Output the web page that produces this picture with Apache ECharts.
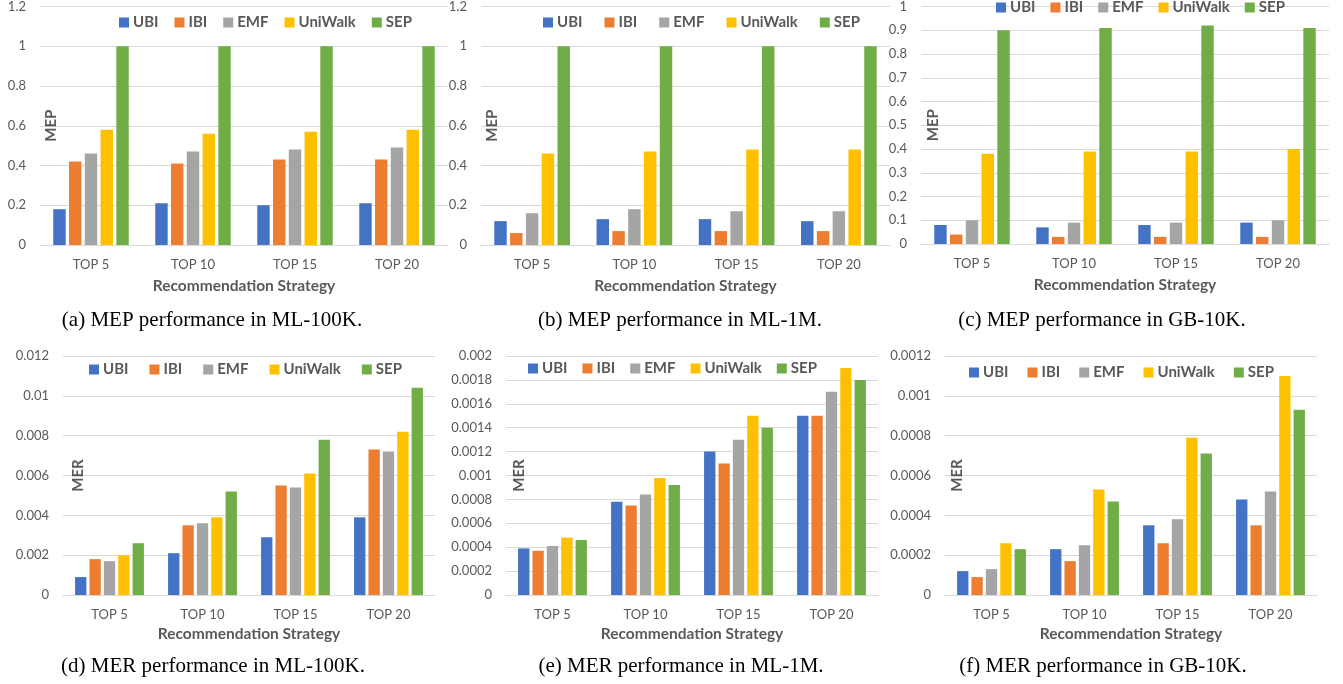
<!DOCTYPE html>
<html>
<head>
<meta charset="utf-8">
<script src="https://cdn.jsdelivr.net/npm/echarts@6/dist/echarts.min.js"></script>
<style>
html,body{margin:0;padding:0;background:#fff;}
#c{width:1343px;height:684px;}
</style>
</head>
<body>
<div id="c"></div>
<script>
// ---- data ----
const categories = ['TOP 5', 'TOP 10', 'TOP 15', 'TOP 20'];
const methods = ['UBI', 'IBI', 'EMF', 'UniWalk', 'SEP'];
const colors = ['#4472C4', '#ED7D31', '#A5A5A5', '#FFC000', '#70AD47'];

// (a) MEP ML-100K
const mepML100K_UBI = [0.18, 0.21, 0.20, 0.21];
const mepML100K_IBI = [0.42, 0.41, 0.43, 0.43];
const mepML100K_EMF = [0.46, 0.47, 0.48, 0.49];
const mepML100K_UniWalk = [0.58, 0.56, 0.57, 0.58];
const mepML100K_SEP = [1.0, 1.0, 1.0, 1.0];
// (b) MEP ML-1M
const mepML1M_UBI = [0.12, 0.13, 0.13, 0.12];
const mepML1M_IBI = [0.06, 0.07, 0.07, 0.07];
const mepML1M_EMF = [0.16, 0.18, 0.17, 0.17];
const mepML1M_UniWalk = [0.46, 0.47, 0.48, 0.48];
const mepML1M_SEP = [1.0, 1.0, 1.0, 1.0];
// (c) MEP GB-10K
const mepGB10K_UBI = [0.08, 0.07, 0.08, 0.09];
const mepGB10K_IBI = [0.04, 0.03, 0.03, 0.03];
const mepGB10K_EMF = [0.10, 0.09, 0.09, 0.10];
const mepGB10K_UniWalk = [0.38, 0.39, 0.39, 0.40];
const mepGB10K_SEP = [0.90, 0.91, 0.92, 0.91];
// (d) MER ML-100K
const merML100K_UBI = [0.0009, 0.0021, 0.0029, 0.0039];
const merML100K_IBI = [0.0018, 0.0035, 0.0055, 0.0073];
const merML100K_EMF = [0.0017, 0.0036, 0.0054, 0.0072];
const merML100K_UniWalk = [0.0020, 0.0039, 0.0061, 0.0082];
const merML100K_SEP = [0.0026, 0.0052, 0.0078, 0.0104];
// (e) MER ML-1M
const merML1M_UBI = [0.00039, 0.00078, 0.0012, 0.0015];
const merML1M_IBI = [0.00037, 0.00075, 0.0011, 0.0015];
const merML1M_EMF = [0.00041, 0.00084, 0.0013, 0.0017];
const merML1M_UniWalk = [0.00048, 0.00098, 0.0015, 0.0019];
const merML1M_SEP = [0.00046, 0.00092, 0.0014, 0.0018];
// (f) MER GB-10K
const merGB10K_UBI = [0.00012, 0.00023, 0.00035, 0.00048];
const merGB10K_IBI = [0.00009, 0.00017, 0.00026, 0.00035];
const merGB10K_EMF = [0.00013, 0.00025, 0.00038, 0.00052];
const merGB10K_UniWalk = [0.00026, 0.00053, 0.00079, 0.0011];
const merGB10K_SEP = [0.00023, 0.00047, 0.00071, 0.00093];

// y-axis scales
const yMax = [1.2, 1.2, 1.0, 0.012, 0.002, 0.0012];
const yStep = [0.2, 0.2, 0.1, 0.002, 0.0002, 0.0002];
const yNames = ['MEP', 'MEP', 'MEP', 'MER', 'MER', 'MER'];
const xName = 'Recommendation Strategy';
const captions = [
  '(a) MEP performance in ML-100K.',
  '(b) MEP performance in ML-1M.',
  '(c) MEP performance in GB-10K.',
  '(d) MER performance in ML-100K.',
  '(e) MER performance in ML-1M.',
  '(f) MER performance in GB-10K.'
];

const panels = [
  [mepML100K_UBI, mepML100K_IBI, mepML100K_EMF, mepML100K_UniWalk, mepML100K_SEP],
  [mepML1M_UBI, mepML1M_IBI, mepML1M_EMF, mepML1M_UniWalk, mepML1M_SEP],
  [mepGB10K_UBI, mepGB10K_IBI, mepGB10K_EMF, mepGB10K_UniWalk, mepGB10K_SEP],
  [merML100K_UBI, merML100K_IBI, merML100K_EMF, merML100K_UniWalk, merML100K_SEP],
  [merML1M_UBI, merML1M_IBI, merML1M_EMF, merML1M_UniWalk, merML1M_SEP],
  [merGB10K_UBI, merGB10K_IBI, merGB10K_EMF, merGB10K_UniWalk, merGB10K_SEP]
];

// ---- layout (pixels) ----
const grids = [
  {left: 40, top: 6, width: 408, height: 239},
  {left: 481, top: 6, width: 409, height: 239},
  {left: 921, top: 6, width: 408, height: 238},
  {left: 63, top: 356, width: 372, height: 239},
  {left: 506, top: 356, width: 372, height: 239},
  {left: 945, top: 356, width: 372, height: 239}
];
const legendPos = [
  {left: 119, top: 15, itemGap: 16},
  {left: 543, top: 15, itemGap: 22},
  {left: 996, top: 0, itemGap: 15},
  {left: 89, top: 362, itemGap: 21},
  {left: 528, top: 361, itemGap: 15},
  {left: 969, top: 365, itemGap: 19}
];
const yNameGap = [-11, -11, -12, -15, -13, -12];
const xNameGap = [33, 33, 33, 31, 31, 31];
const captionPos = [[212, 320], [680, 320], [1102, 320], [213, 666], [681, 666], [1103, 666]];

const FONT = 'Lato';
const GREY = '#595959';

const option = {
  animation: false,
  backgroundColor: '#ffffff',
  textStyle: {fontFamily: FONT},
  grid: grids.map(g => Object.assign({containLabel: false}, g)),
  legend: legendPos.map(p => ({
    data: methods,
    left: p.left, top: p.top, itemGap: p.itemGap,
    padding: 0, itemWidth: 10, itemHeight: 10, icon: 'rect',
    orient: 'horizontal',
    textStyle: {fontFamily: FONT, fontSize: 15, fontWeight: 'bold', color: GREY, padding: [0, 0, 0, -1]}
  })),
  xAxis: grids.map((g, i) => ({
    type: 'category', gridIndex: i, data: categories,
    name: xName, nameLocation: 'middle', nameGap: xNameGap[i],
    nameTextStyle: {fontFamily: FONT, fontSize: 15.5, fontWeight: 'bold', color: GREY},
    axisLine: {lineStyle: {color: '#D9D9D9', width: 1}},
    axisTick: {show: false},
    axisLabel: {fontFamily: FONT, fontSize: 13, color: GREY, margin: 13}
  })),
  yAxis: grids.map((g, i) => ({
    type: 'value', gridIndex: i, min: 0, max: yMax[i], interval: yStep[i],
    name: yNames[i], nameLocation: 'middle', nameGap: yNameGap[i], nameRotate: 90,
    nameTextStyle: {fontFamily: FONT, fontSize: 15, fontWeight: 'bold', color: GREY, align: 'center', verticalAlign: 'middle'},
    axisLine: {show: false}, axisTick: {show: false},
    splitLine: {lineStyle: {color: '#D9D9D9', width: 1}},
    axisLabel: {fontFamily: FONT, fontSize: 13, color: GREY, margin: 14}
  })),
  series: [],
  graphic: captions.map((t, i) => ({
    type: 'text', x: captionPos[i][0], y: captionPos[i][1],
    style: {text: t, fill: '#000', font: '21px "Liberation Serif"', align: 'center', verticalAlign: 'middle'}
  }))
};

panels.forEach((vals, i) => {
  vals.forEach((arr, k) => {
    option.series.push({
      type: 'bar', name: methods[k], xAxisIndex: i, yAxisIndex: i,
      data: arr, barCategoryGap: '26%', barGap: '27%',
      itemStyle: {color: colors[k]}
    });
  });
});

const chart = echarts.init(document.getElementById('c'), null, {renderer: 'canvas'});
chart.setOption(option);
</script>
</body>
</html>
